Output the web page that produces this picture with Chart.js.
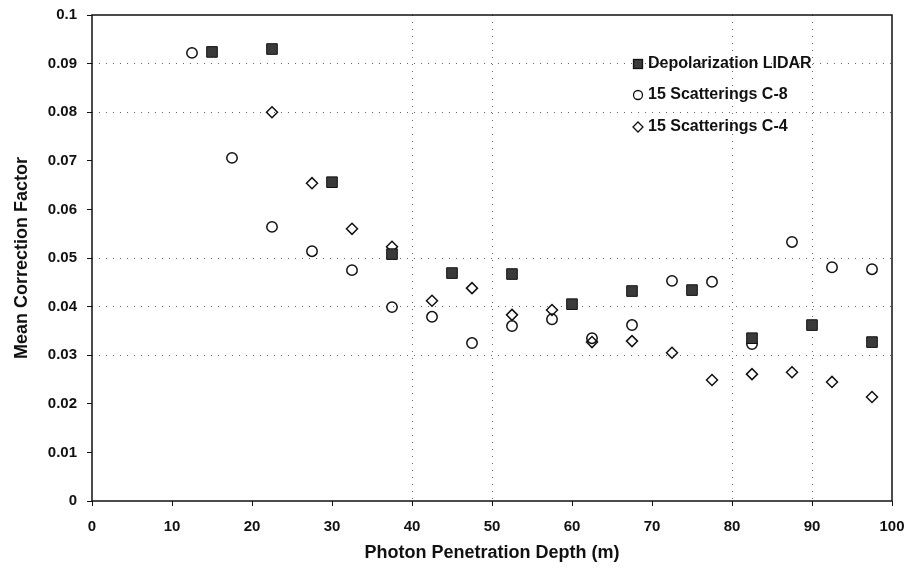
<!DOCTYPE html>
<html>
<head>
<meta charset="utf-8">
<script src="https://cdn.jsdelivr.net/npm/chart.js@4"></script>
<style>
  html, body { margin: 0; padding: 0; background: #fff; }
  #wrap { width: 907px; height: 578px; }
</style>
</head>
<body>
<div id="wrap"><canvas id="chart" width="907" height="578"></canvas></div>
<script>
// Data
const lidarDepth = [15, 22.5, 30, 37.5, 45, 52.5, 60, 67.5, 75, 82.5, 90, 97.5];
const lidarValues = [0.0924, 0.0930, 0.0656, 0.0508, 0.0469, 0.0467, 0.0405, 0.0432, 0.0434, 0.0335, 0.0362, 0.0327];

const c8Depth = [12.5, 17.5, 22.5, 27.5, 32.5, 37.5, 42.5, 47.5, 52.5, 57.5, 62.5, 67.5, 72.5, 77.5, 82.5, 87.5, 92.5, 97.5];
const c8Values = [0.0922, 0.0706, 0.0564, 0.0514, 0.0475, 0.0399, 0.0379, 0.0325, 0.0360, 0.0374, 0.0335, 0.0362, 0.0453, 0.0451, 0.0323, 0.0533, 0.0481, 0.0477];

const c4Depth = [22.5, 27.5, 32.5, 37.5, 42.5, 47.5, 52.5, 57.5, 62.5, 67.5, 72.5, 77.5, 82.5, 87.5, 92.5, 97.5];
const c4Values = [0.080, 0.0654, 0.0560, 0.0523, 0.0412, 0.0438, 0.0383, 0.0393, 0.0327, 0.0329, 0.0305, 0.0249, 0.0261, 0.0265, 0.0245, 0.0214];

const seriesNames = ['Depolarization LIDAR', '15 Scatterings C-8', '15 Scatterings C-4'];
const xTickLabels = ['0', '10', '20', '30', '40', '50', '60', '70', '80', '90', '100'];
const yTickLabels = ['0', '0.01', '0.02', '0.03', '0.04', '0.05', '0.06', '0.07', '0.08', '0.09', '0.1'];

// only some gridlines survive in the original figure
const xGridAt = [40, 50, 80, 90];
const yGridAt = [0.03, 0.04, 0.05, 0.08, 0.09];

const FONT = "'Liberation Sans', Arial, sans-serif";

function toPoints(xs, ys) {
  return xs.map((x, i) => ({ x: x, y: ys[i] }));
}

function gridColor(list) {
  return (ctx) => {
    if (!ctx.tick) return 'rgba(0,0,0,0)';
    const v = ctx.tick.value;
    return list.some(g => Math.abs(g - v) < 1e-6) ? '#666' : 'rgba(0,0,0,0)';
  };
}

// frame + legend drawn inside the plot area
const framePlugin = {
  id: 'frameLegend',
  afterDraw(chart) {
    const { ctx, chartArea: a } = chart;
    ctx.save();
    ctx.strokeStyle = '#111';
    ctx.lineWidth = 1.5;
    ctx.strokeRect(a.left, a.top, a.right - a.left, a.bottom - a.top);

    const mx = a.left + 546;
    const tx = a.left + 556;
    const rows = [49, 80, 112];
    ctx.font = 'bold 16px ' + FONT;
    ctx.textBaseline = 'middle';
    seriesNames.forEach((name, i) => {
      const y = a.top + rows[i];
      ctx.lineWidth = 1.3;
      ctx.strokeStyle = '#111';
      if (i === 0) {
        ctx.fillStyle = '#3a3a3a';
        ctx.fillRect(mx - 4.5, y - 4.5, 9, 9);
        ctx.strokeRect(mx - 4.5, y - 4.5, 9, 9);
      } else if (i === 1) {
        ctx.beginPath();
        ctx.arc(mx, y, 4.5, 0, Math.PI * 2);
        ctx.stroke();
      } else {
        ctx.beginPath();
        ctx.moveTo(mx, y - 5);
        ctx.lineTo(mx + 5, y);
        ctx.lineTo(mx, y + 5);
        ctx.lineTo(mx - 5, y);
        ctx.closePath();
        ctx.stroke();
      }
      ctx.fillStyle = '#111';
      ctx.fillText(name, tx, y);
    });
    ctx.restore();
  }
};

new Chart(document.getElementById('chart'), {
  type: 'scatter',
  data: {
    datasets: [
      {
        label: seriesNames[0],
        data: toPoints(lidarDepth, lidarValues),
        pointStyle: 'rect',
        pointRadius: 7.5,
        backgroundColor: '#3a3a3a',
        borderColor: '#111',
        borderWidth: 1
      },
      {
        label: seriesNames[1],
        data: toPoints(c8Depth, c8Values),
        pointStyle: 'circle',
        pointRadius: 5.2,
        backgroundColor: 'rgba(255,255,255,0)',
        borderColor: '#111',
        borderWidth: 1.5
      },
      {
        label: seriesNames[2],
        data: toPoints(c4Depth, c4Values),
        pointStyle: 'rectRot',
        pointRadius: 5.5,
        backgroundColor: 'rgba(255,255,255,0)',
        borderColor: '#111',
        borderWidth: 1.5
      }
    ]
  },
  options: {
    responsive: false,
    animation: false,
    layout: { padding: { top: 15, right: 15, left: 0, bottom: 0 } },
    plugins: {
      legend: { display: false },
      tooltip: { enabled: false }
    },
    scales: {
      x: {
        type: 'linear',
        min: 0,
        max: 100,
        afterFit: (s) => {
          s.height = 77;
          s.paddingLeft = 0;
          s.paddingRight = 0;
        },
        ticks: {
          stepSize: 10,
          padding: 12,
          color: '#111',
          font: { size: 15, weight: 'bold', family: FONT },
          callback: (v, i) => xTickLabels[i]
        },
        grid: {
          color: gridColor(xGridAt),
          lineWidth: 1,
          tickColor: '#111',
          tickLength: 5
        },
        border: { display: false, dash: [1, 6] },
        title: {
          display: true,
          text: 'Photon Penetration Depth (m)',
          color: '#111',
          font: { size: 18, weight: 'bold', family: FONT },
          padding: { top: 0, bottom: 14 }
        }
      },
      y: {
        type: 'linear',
        min: 0,
        max: 0.1,
        afterFit: (s) => {
          s.width = 92;
          s.paddingTop = 0;
          s.paddingBottom = 0;
        },
        ticks: {
          stepSize: 0.01,
          padding: 10,
          color: '#111',
          font: { size: 15, weight: 'bold', family: FONT },
          callback: (v, i) => yTickLabels[i]
        },
        grid: {
          color: gridColor(yGridAt),
          lineWidth: 1,
          tickColor: '#111',
          tickLength: 5
        },
        border: { display: false, dash: [1, 6] },
        title: {
          display: true,
          text: 'Mean Correction Factor',
          color: '#111',
          font: { size: 18, weight: 'bold', family: FONT },
          padding: { top: 11, bottom: 0 }
        }
      }
    }
  },
  plugins: [framePlugin]
});
</script>
</body>
</html>
